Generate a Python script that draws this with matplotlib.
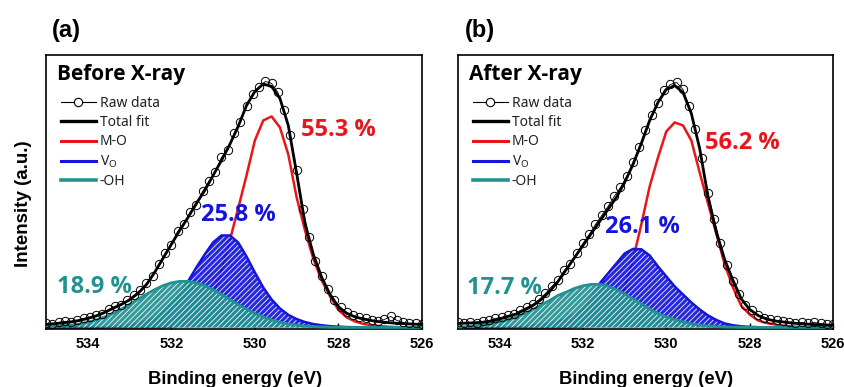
import numpy as np
import matplotlib
matplotlib.use("Agg")
import matplotlib.pyplot as plt
from matplotlib.lines import Line2D

# ------------------ Dados (intensidade em u.a.) ----------------------
energy = np.linspace(535.0, 526.0, 46)      # grade do ajuste, eV (passo 0.2)
energy_raw = np.linspace(535.0, 526.0, 61)  # pontos medidos, eV (passo 0.15)

# (a) Before X-ray
raw_a = [4, 3, 5, 6, 5, 7, 9, 10, 12, 13, 18, 21, 22, 27, 32, 37, 44, 51, 63, 74,
         82, 96, 103, 115, 122, 136, 146, 155, 170, 177, 194, 205, 221, 233, 240, 246, 244, 235, 217, 192,
         157, 118, 90, 66, 51, 38, 27, 20, 15, 12, 10, 9, 7, 6, 8, 11, 7, 5, 4, 4, 3]
total_a = [3, 3.8, 4.6, 5.6, 7, 9, 11.5, 15, 19, 23, 27.5, 34, 42.5, 55, 69, 83, 97, 110, 124, 137,
           152, 167, 183, 201, 222, 236, 243.5, 241, 229, 202, 154, 104, 73, 50, 33, 20.5, 14, 10.5, 8.3, 6.8,
           5.6, 4.8, 4.2, 3.7, 3.3, 3]
mo_a = [0, 0, 0, 0, 0, 0, 0, 0, 0, 0, 0, 0, 0, 0, 0.3, 0.8, 2, 4.2, 9, 17,
        32, 58, 87, 119, 152, 187, 207, 211, 200, 173, 130, 97, 68.6, 47, 31, 17.5, 10, 6, 3.5, 2.3,
        1.3, 0.7, 0.3, 0.1, 0, 0]
vo_a = [0, 0, 0, 0, 0, 0, 0, 0.3, 0.6, 1.2, 2.3, 4, 6.5, 9, 16, 25, 33, 46, 60, 73,
        85, 92, 92, 85, 71, 55, 40, 28, 19, 12.6, 8.4, 5.4, 3.4, 2.2, 1.3, 0.8, 0.4, 0.2, 0, 0,
        0, 0, 0, 0, 0, 0]
oh_a = [0.7, 1.1, 1.8, 2.3, 3.5, 5.2, 7.5, 10.4, 14, 18.3, 23, 28.1, 33.1, 37.8, 41.8, 44.6, 46.1, 46.1, 44.6, 41.8,
        37.8, 33.1, 28.1, 23, 18.3, 14, 10.4, 7.5, 5.2, 3.5, 2.3, 1.4, 0.9, 0.5, 0.3, 0.15, 0, 0, 0, 0,
        0, 0, 0, 0, 0, 0]
pct_a = ["55.3 %", "25.8 %", "18.9 %"]
pct_pos_a = [(528.0, 197.5), (530.39, 112.3), (533.84, 40.7)]

# (b) After X-ray
raw_b = [5, 4, 5, 4, 6, 7, 9, 10, 12, 13, 17, 20, 23, 28, 34, 41, 47, 57, 63, 74,
         84, 93, 103, 112, 121, 131, 140, 151, 165, 180, 197, 212, 224, 237, 243, 245, 238, 221, 198, 169,
         134, 108, 84, 62, 46, 33, 22, 17, 12, 9, 8, 7, 6, 5, 4, 5, 4, 5, 4, 3, 3]
total_b = [4, 4.3, 4.7, 5.2, 6.3, 8.5, 11, 13.5, 17.5, 22, 28, 36, 46, 58, 70, 82, 94, 106, 118, 130,
           145, 163, 184, 207, 225, 238, 242, 235, 214, 179, 131, 95, 68, 47, 28.5, 18, 12, 8.5, 6.5, 5.5,
           4.5, 3.8, 3.2, 2.8, 2.5, 2.3]
mo_b = [0, 0, 0, 0, 0, 0, 0, 0, 0, 0, 0, 0, 0, 0, 0.5, 1.3, 3, 6, 12, 23,
        39, 68, 103, 141, 170, 196, 205, 202, 187, 155, 124, 94, 63, 40, 21.5, 13, 7, 4.5, 3, 1.8,
        1, 0.5, 0.2, 0, 0, 0]
vo_b = [0, 0, 0, 0, 0, 0, 0.2, 0.5, 1, 1.8, 2.8, 4, 6, 8.5, 13, 20, 31, 44, 54, 64,
        74, 78.5, 78.2, 72, 61, 51, 41, 33, 25, 18, 12, 7.5, 4, 2.2, 1.1, 0.6, 0.3, 0, 0, 0,
        0, 0, 0, 0, 0, 0]
oh_b = [0.5, 0.8, 1.8, 2.6, 3.8, 5.5, 7.8, 10.5, 14, 18, 22.5, 27, 32, 35.4, 39.1, 41.7, 43.1, 43.1, 41.2, 38,
        33.5, 28.5, 23.5, 18.5, 14, 10.5, 8, 5.5, 3.6, 2.3, 1.4, 0.8, 0.5, 0.3, 0.15, 0, 0, 0, 0, 0,
        0, 0, 0, 0, 0, 0]
pct_b = ["56.2 %", "26.1 %", "17.7 %"]
pct_pos_b = [(528.17, 184.0), (530.57, 100.7), (533.89, 39.0)]

ticks = [534, 532, 530, 528, 526]

# ------------------ Estilo ----------------------
RED = "#e8161b"
BLUE = "#1414dc"
TEAL = "#229290"
BOLD_FONT = "Open Sans"
plt.rcParams["hatch.linewidth"] = 0.6
plt.rcParams["hatch.color"] = "white"


def draw_panel(ax, title, raw, total, mo, vo, oh, pct, pct_pos):
    ax.plot(energy, mo, color=RED, lw=1.8, zorder=1)
    ax.fill_between(energy, 0, vo, facecolor=BLUE, edgecolor="white", hatch="//////",
                    lw=0, alpha=0.92, zorder=2)
    ax.plot(energy, vo, color=BLUE, lw=1.8, zorder=2.5)
    ax.fill_between(energy, 0, oh, facecolor=TEAL, edgecolor="white", hatch="//////",
                    lw=0, alpha=0.92, zorder=3)
    ax.plot(energy, oh, color=TEAL, lw=2, zorder=3.5)
    ax.plot(energy, total, color="black", lw=2, zorder=4)
    ax.plot(energy_raw, raw, color="black", lw=0.6, marker="o", ms=6,
            mfc="none", mec="black", mew=0.7, zorder=5)

    for s, (x, y), c in zip(pct, pct_pos, [RED, BLUE, TEAL]):
        ax.text(x, y, s, color=c, fontsize=17, fontweight="bold", family=BOLD_FONT,
                ha="center", va="center", zorder=6)

    ax.text(0.03, 0.928, title, transform=ax.transAxes, fontsize=15, fontweight="bold",
            family=BOLD_FONT, ha="left", va="center")

    handles = [
        Line2D([], [], color="black", lw=0.8, marker="o", ms=6, mfc="white", mec="black", mew=0.8),
        Line2D([], [], color="black", lw=2.4),
        Line2D([], [], color=RED, lw=2.2),
        Line2D([], [], color=BLUE, lw=2.2),
        Line2D([], [], color=TEAL, lw=2.6),
    ]
    labels = ["Raw data", "Total fit", "M-O", r"V$_\mathregular{O}$", "-OH"]
    leg = ax.legend(handles, labels, loc="upper left", bbox_to_anchor=(0.04, 0.85),
                    frameon=False, borderpad=0, borderaxespad=0, handlelength=2.5,
                    handletextpad=0.3, labelspacing=0.3, numpoints=1,
                    prop={"family": "Noto Sans", "size": 10})
    for t in leg.get_texts():
        t.set_color("#222222")

    ax.set_xlim(535, 526)
    ax.set_ylim(-1.5, 272.5)
    ax.set_xticks(ticks)
    ax.set_xticklabels([str(t) for t in ticks], fontweight="bold", family="Liberation Sans")
    ax.set_yticks([])
    ax.tick_params(axis="x", direction="in", length=4, width=1, labelsize=10.5, pad=6)
    for sp in ax.spines.values():
        sp.set_linewidth(1.2)


fig = plt.figure(figsize=(8.45, 3.87), dpi=100)
ax_a = fig.add_axes([0.0544, 0.150, 0.445, 0.708])
ax_b = fig.add_axes([0.542, 0.150, 0.4438, 0.708])

draw_panel(ax_a, "Before X-ray", raw_a, total_a, mo_a, vo_a, oh_a, pct_a, pct_pos_a)
draw_panel(ax_b, "After X-ray", raw_b, total_b, mo_b, vo_b, oh_b, pct_b, pct_pos_b)

fig.text(66 / 845, 1 - 30 / 387, "(a)", fontsize=17, fontweight="bold",
         family="Liberation Sans", ha="center", va="center")
fig.text(480 / 845, 1 - 30 / 387, "(b)", fontsize=17, fontweight="bold",
         family="Liberation Sans", ha="center", va="center")
fig.text(24 / 845, 1 - 204 / 387, "Intensity (a.u.)", rotation=90, fontsize=13.5,
         fontweight="bold", family="Liberation Sans", ha="center", va="center")
for xc in [235 / 845, 646 / 845]:
    fig.text(xc, 1 - 383.5 / 387, "Binding energy (eV)", fontsize=13.3, fontweight="bold",
             family="Liberation Sans", ha="center", va="baseline")

fig.savefig("out.png", dpi=100)
